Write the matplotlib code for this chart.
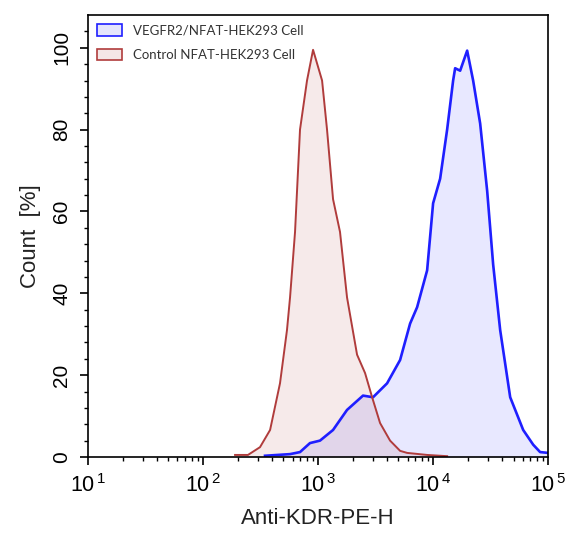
import matplotlib
matplotlib.use('Agg')
import matplotlib.pyplot as plt
from matplotlib.patches import Patch
from matplotlib.ticker import FixedLocator, LogLocator, NullFormatter

plt.rcParams['font.family'] = ['Liberation Sans', 'DejaVu Sans']
plt.rcParams['mathtext.fontset'] = 'custom'
plt.rcParams['mathtext.rm'] = 'Liberation Sans'

# Control NFAT-HEK293 (intensity, count %)
control_x = [190, 246, 313, 383, 467, 537, 571, 631, 697, 802, 905, 1084, 1197,
             1350, 1552, 1786, 2183, 2563, 2951, 3459, 4227, 5166, 5943, 8872, 13240]
control_y = [0.5, 0.5, 2.4, 6.6, 18, 31, 39, 55, 80, 92, 99.5, 92, 80,
             63, 55, 39, 25, 20.5, 14.6, 8.3, 4, 1.5, 1.0, 0.5, 0.2]

# VEGFR2/NFAT-HEK293
vegfr_x = [346, 571, 697, 851, 1040, 1350, 1786, 2460, 3006, 3981, 5166, 6310,
           7261, 8872, 10000, 11510, 13240, 14930, 15540, 17180, 19770, 22280,
           25640, 29510, 33270, 38280, 46770, 60670, 74130, 85110, 100000]
vegfr_y = [0.3, 0.7, 1.2, 3.4, 4, 6.6, 11.5, 15, 14.6, 18, 23.7, 32.6,
           36.6, 45.6, 62, 68, 80, 92, 95, 94.4, 99.3, 92,
           81.5, 65, 47, 31, 14.6, 6.6, 3, 1.2, 1]

xtick_vals = [1e1, 1e2, 1e3, 1e4, 1e5]
xtick_labels = ['10$^{\\,1}$', '10$^{\\,2}$', '10$^{\\,3}$', '10$^{\\,4}$', '10$^{\\,5}$']
ytick_vals = [0, 20, 40, 60, 80, 100]

fig = plt.figure(figsize=(5.71, 5.37), dpi=100)
ax = fig.add_axes([0.154, 0.149, 0.806, 0.823])

blue = '#1f1fff'
red = '#b03c3c'
ax.fill_between(vegfr_x, vegfr_y, 0, color='#0000ff', alpha=0.09, lw=0)
ax.plot(vegfr_x, vegfr_y, color=blue, lw=1.9)
ax.fill_between(control_x, control_y, 0, color='#a83232', alpha=0.1, lw=0)
ax.plot(control_x, control_y, color=red, lw=1.4)

ax.set_xscale('log')
ax.set_xlim(1e1, 1e5)
ax.set_ylim(0, 108)
ax.set_xticks(xtick_vals)
ax.set_xticklabels(xtick_labels)
ax.xaxis.set_minor_locator(LogLocator(base=10, subs=range(2, 10)))
ax.xaxis.set_minor_formatter(NullFormatter())
ax.set_yticks(ytick_vals)
ax.yaxis.set_minor_locator(FixedLocator(range(0, 108, 4)))

ax.tick_params(which='major', direction='out', length=6, width=1.2, pad=6)
ax.tick_params(axis='x', which='major', labelsize=15.5)
ax.tick_params(axis='y', which='major', labelsize=15, labelrotation=90)
ax.tick_params(which='minor', direction='out', length=3, width=1)
for lbl in ax.get_yticklabels():
    lbl.set_va('center')
for s in ax.spines.values():
    s.set_linewidth(1.2)

ax.set_xlabel('Anti-KDR-PE-H', fontsize=16, color='#222222', labelpad=8)
ax.set_ylabel('Count  [%]', fontsize=16, color='#222222', labelpad=8)

handles = [Patch(facecolor='#e6e6fb', edgecolor=blue, lw=1.2, label='VEGFR2/NFAT-HEK293 Cell'),
           Patch(facecolor='#f4e6e6', edgecolor=red, lw=1.2, label='Control NFAT-HEK293 Cell')]
leg = ax.legend(handles=handles, loc='upper left', frameon=False,
                prop={'family': 'Lato', 'size': 9.5}, handlelength=1.9, handleheight=1.0,
                borderaxespad=0.3, labelspacing=0.9, handletextpad=0.8)
for t in leg.get_texts():
    t.set_color('#333333')

fig.savefig('out.png', dpi=100)
